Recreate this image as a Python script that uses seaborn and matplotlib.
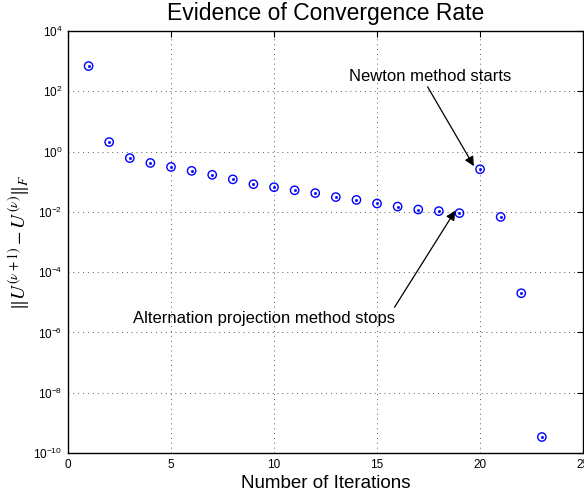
import numpy as np
import pandas as pd
import matplotlib
matplotlib.use("Agg")
import matplotlib.pyplot as plt
import seaborn as sns

# iteration number and Frobenius norm of the update
iterations = list(range(1, 24))
residuals = [690, 2.07, 0.61, 0.42, 0.31, 0.23, 0.17, 0.12, 0.083, 0.066,
             0.052, 0.042, 0.031, 0.025, 0.019, 0.015, 0.012, 0.0106, 0.0091,
             0.26, 0.0068, 2.0e-5, 3.4e-10]
ytick_vals = [1e-10, 1e-8, 1e-6, 1e-4, 1e-2, 1e0, 1e2, 1e4]
ytick_labels = [r"$10^{-10}$", r"$10^{-8}$", r"$10^{-6}$", r"$10^{-4}$",
                r"$10^{-2}$", r"$10^{0}$", r"$10^{2}$", r"$10^{4}$"]

df = pd.DataFrame({"iter": iterations, "res": residuals})

sns.set_style("white")
plt.rcParams["font.family"] = ["Liberation Sans", "DejaVu Sans"]
plt.rcParams["mathtext.fontset"] = "custom"
plt.rcParams["mathtext.rm"] = "Liberation Sans"
plt.rcParams["mathtext.it"] = "Liberation Sans:italic"
for key in ["text.color", "axes.labelcolor", "xtick.color", "ytick.color"]:
    plt.rcParams[key] = "black"

fig = plt.figure(figsize=(5.84, 4.95), dpi=100)
ax = fig.add_axes([0.1164, 0.0848, 0.882, 0.8525])

sns.scatterplot(data=df, x="iter", y="res", ax=ax, marker="o", s=36,
                facecolor="none", edgecolor="blue", linewidth=1.0, zorder=3)
sns.scatterplot(data=df, x="iter", y="res", ax=ax, marker="o", s=2.5,
                color="blue", edgecolor="blue", linewidth=0.5, zorder=4)

ax.set_yscale("log")
ax.set_xlim(0, 25)
ax.set_ylim(1e-10, 1e4)
ax.set_xticks([0, 5, 10, 15, 20, 25])
ax.set_yticks(ytick_vals)
ax.set_yticklabels(ytick_labels)
ax.yaxis.set_minor_locator(matplotlib.ticker.NullLocator())
ax.tick_params(direction="in", length=4, width=0.8, labelsize=8.5,
               top=True, right=True, pad=4)
ax.grid(True, linestyle=(0, (1, 4)), color="0.35", linewidth=0.7)
for sp in ax.spines.values():
    sp.set_linewidth(1.0)
    sp.set_color("black")

ax.set_title("Evidence of Convergence Rate", fontsize=16.5, pad=8)
ax.set_xlabel("Number of Iterations", fontsize=13.5, labelpad=3)

# y label uses a serif math font like the original
ylab = ax.set_ylabel(r"$\|U^{(\nu+1)}- U^{(\nu)}\|_F$", fontsize=14,
                     labelpad=0)
ylab.set_math_fontfamily("stix")
ax.yaxis.set_label_coords(-0.07, 0.5)

ax.annotate("Newton method starts", xy=(19.7, 0.33), xytext=(17.6, 320),
            fontsize=12, ha="center", va="center",
            arrowprops=dict(arrowstyle="-|>", color="black", lw=0.9,
                            mutation_scale=14, shrinkA=0, shrinkB=0,
                            relpos=(0.47, 0.0)))
ax.annotate("Alternation projection method stops", xy=(18.8, 0.011),
            xytext=(9.5, 3e-6), fontsize=12, ha="center", va="center",
            arrowprops=dict(arrowstyle="-|>", color="black", lw=0.9,
                            mutation_scale=14, shrinkA=0, shrinkB=0,
                            relpos=(0.995, 1.1)))

fig.savefig("out.png", dpi=100)
